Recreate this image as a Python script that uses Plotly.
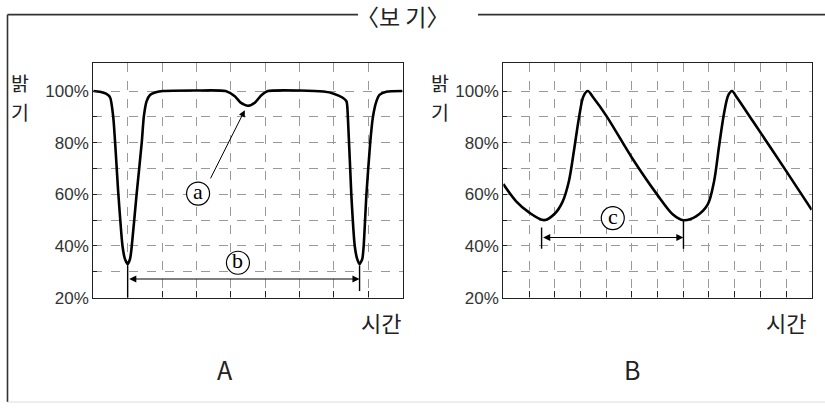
import plotly.graph_objects as go

# ---- data ----
a_time = [0, 0.19, 0.37, 0.49, 0.58, 0.73, 0.85, 0.92, 1.0, 1.07, 1.12, 1.26, 1.41, 1.47, 1.55, 1.65, 1.82,
          2.03, 3.0, 3.85, 4.12, 4.29, 4.5, 4.7, 4.9, 5.08, 6.0, 6.7, 7.0, 7.25,
          7.37, 7.41, 7.51, 7.61, 7.68, 7.75, 7.83, 7.87, 7.95, 8.06, 8.14, 8.24, 8.33, 8.53, 9.0]
a_bright = [100, 99.7, 99, 97.5, 90, 60, 40, 35, 33, 35, 40, 60, 80, 90, 96, 98.5, 99.5,
            100, 100.2, 100, 98, 95.5, 94.3, 95.5, 98.5, 100, 100.2, 99.8, 99, 97.5,
            96, 90, 60, 40, 35, 33, 35, 40, 60, 80, 90, 96, 98.5, 99.7, 100]

b_time = [0, 0.5, 1.0, 1.59, 2.0, 2.3, 2.55, 2.75, 2.95, 3.12, 3.29, 3.5, 4.01, 5.01, 6.01, 6.6, 7.01,
          7.5, 7.95, 8.2, 8.4, 8.6, 8.76, 8.9, 9.09, 9.74, 11.01, 12.0]
b_bright = [64.0, 57.3, 53.0, 50.0, 52.5, 57, 65, 77, 90, 98, 100, 97.5, 90.4, 74.1, 59.6, 52.2, 50.0,
            51.5, 56, 65, 79, 92, 98.5, 100, 97.5, 87.9, 69, 54]

y_ticks = [20, 30, 40, 50, 60, 70, 80, 90, 100]
y_text = ["20%", "", "40%", "", "60%", "", "80%", "", "100%"]
a_cols = list(range(0, 10))
b_cols = list(range(0, 13))

W, H = 825, 414
def px(x):
    return x / W
def py(y):
    return 1 - y / H

fig = go.Figure()
fig.add_trace(go.Scatter(x=a_time, y=a_bright, mode="lines", xaxis="x", yaxis="y",
                         line=dict(color="black", width=2.6, shape="spline", smoothing=0.6),
                         showlegend=False, hoverinfo="skip"))
fig.add_trace(go.Scatter(x=b_time, y=b_bright, mode="lines", xaxis="x2", yaxis="y2",
                         line=dict(color="black", width=2.6, shape="spline", smoothing=0.9),
                         showlegend=False, hoverinfo="skip"))

tickfont = dict(family="Liberation Sans, Arial, sans-serif", size=17, color="#333")
xcommon = dict(showline=True, linecolor="#222", linewidth=1.3, mirror=True,
               showgrid=True, gridcolor="#9a9a9a", griddash="dash", gridwidth=1,
               ticks="inside", ticklen=6, tickcolor="#222", tickwidth=1,
               tickmode="array", zeroline=False, fixedrange=True)
ycommon = dict(showline=True, linecolor="#222", linewidth=1.3, mirror=True,
               showgrid=True, gridcolor="#9a9a9a", griddash="dash", gridwidth=1,
               ticks="inside", ticklen=4, tickcolor="#222", tickwidth=1,
               tickmode="array", tickvals=y_ticks, ticktext=y_text, tickfont=tickfont,
               range=[20, 110.7], zeroline=False, fixedrange=True)

fig.update_layout(
    width=W, height=H, margin=dict(l=0, r=0, t=0, b=0),
    paper_bgcolor="white", plot_bgcolor="white",
    xaxis=dict(xcommon, domain=[px(93.3), px(402.5)], range=[0, 9], tickvals=a_cols,
               ticktext=[""] * len(a_cols), anchor="y"),
    yaxis=dict(ycommon, domain=[py(305), py(65)], anchor="x"),
    xaxis2=dict(xcommon, domain=[px(503.3), px(811.7)], range=[0, 12], tickvals=b_cols,
                ticktext=[""] * len(b_cols), anchor="y2"),
    yaxis2=dict(ycommon, domain=[py(305), py(65)], anchor="x2"),
)

shapes = []
line_col = "#333"
# outer frame
shapes.append(dict(type="line", xref="paper", yref="paper", x0=px(7.5), x1=px(358), y0=py(15), y1=py(15),
                   line=dict(color=line_col, width=1.6)))
shapes.append(dict(type="line", xref="paper", yref="paper", x0=px(478), x1=1, y0=py(15), y1=py(15),
                   line=dict(color=line_col, width=1.6)))
shapes.append(dict(type="line", xref="paper", yref="paper", x0=px(7.5), x1=px(7.5), y0=py(15), y1=py(412),
                   line=dict(color=line_col, width=1.6)))
shapes.append(dict(type="line", xref="paper", yref="paper", x0=px(7.5), x1=1, y0=py(412), y1=py(412),
                   line=dict(color="#dddddd", width=1)))

# interval markers
shapes.append(dict(type="line", xref="x", yref="y", x0=1.0, x1=1.0, y0=20, y1=32.5, line=dict(color="black", width=1.4)))
shapes.append(dict(type="line", xref="x", yref="y", x0=7.75, x1=7.75, y0=22.6, y1=32.5, line=dict(color="black", width=1.4)))
shapes.append(dict(type="line", xref="x2", yref="y2", x0=1.49, x1=1.49, y0=38.9, y1=47.2, line=dict(color="black", width=1.4)))
shapes.append(dict(type="line", xref="x2", yref="y2", x0=7.01, x1=7.01, y0=38.9, y1=50.0, line=dict(color="black", width=1.4)))

# circled labels
def circ(xr, yr, xa, ya):
    shapes.append(dict(type="circle", xref=xr, yref=yr, xsizemode="pixel", ysizemode="pixel",
                       xanchor=xa, yanchor=ya, x0=-11.5, x1=11.5, y0=-11.5, y1=11.5,
                       line=dict(color="black", width=1.2), fillcolor="white"))
circ("x", "y", 3.05, 60.3)
circ("x", "y", 4.21, 33.5)
circ("x2", "y2", 4.26, 50.8)
fig.update_layout(shapes=shapes)

ann = []
serif = dict(family="Liberation Serif, DejaVu Serif, serif", size=22, color="black")
ann.append(dict(x=3.05, y=61.0, xref="x", yref="y", text="a", showarrow=False, font=serif))
ann.append(dict(x=4.21, y=34.2, xref="x", yref="y", text="b", showarrow=False, font=serif))
ann.append(dict(x=4.26, y=51.5, xref="x2", yref="y2", text="c", showarrow=False, font=serif))

# arrows
ann.append(dict(x=7.75, y=27.2, ax=1.0, ay=27.2, xref="x", yref="y", axref="x", ayref="y", text="",
                showarrow=True, arrowside="end+start", arrowhead=2, arrowsize=1.3, arrowwidth=1.1,
                arrowcolor="black", standoff=0, startstandoff=0))
ann.append(dict(x=7.01, y=43.3, ax=1.49, ay=43.3, xref="x2", yref="y2", axref="x2", ayref="y2", text="",
                showarrow=True, arrowside="end+start", arrowhead=2, arrowsize=1.3, arrowwidth=1.1,
                arrowcolor="black", standoff=0, startstandoff=0))
ann.append(dict(x=4.41, y=92.6, ax=3.39, ay=65.6, xref="x", yref="y", axref="x", ayref="y", text="",
                showarrow=True, arrowhead=2, arrowsize=1.3, arrowwidth=1.0,
                arrowcolor="black", standoff=0, startstandoff=0))

kfont = dict(family="Noto Sans CJK KR", size=22, color="#222")
def ptext(x, y, t, font, xanchor="center"):
    ann.append(dict(x=px(x), y=py(y), xref="paper", yref="paper", text=t, showarrow=False,
                    font=font, xanchor=xanchor, yanchor="middle"))

ptext(402, 16, "〈보 기〉", dict(family="Noto Sans CJK KR", size=23, color="#222"))
yfont = dict(family="Noto Sans CJK KR", size=19.5, color="#222")
ptext(20, 85, "밝", yfont)
ptext(20, 114, "기", yfont)
ptext(440, 85, "밝", yfont)
ptext(440, 114, "기", yfont)
ptext(381, 330, "시간", kfont)
ptext(786, 330, "시간", kfont)
lfont = dict(family="Noto Sans CJK KR", size=25, color="#222")
ptext(225, 378, "A", lfont)
ptext(632, 378, "B", lfont)

fig.update_layout(annotations=ann)
fig.write_html("out.html", config={"displayModeBar": False},
               post_script="document.body.style.margin='0';document.body.style.overflow='hidden';")
